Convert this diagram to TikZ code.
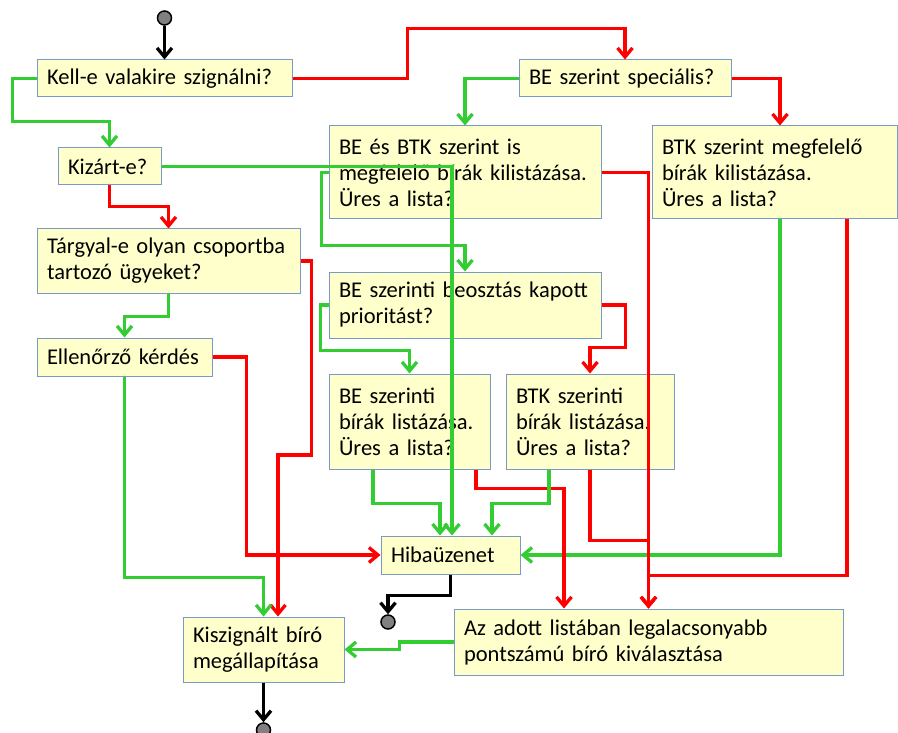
\documentclass[tikz,border=0pt]{standalone}
\usepackage{fontspec}
\setmainfont{Carlito}
\usepackage{tikz}
\usetikzlibrary{arrows.meta}
\definecolor{boxyellow}{RGB}{255, 255, 204}
\definecolor{boxborder}{RGB}{121, 153, 199}
\definecolor{yesgreen}{RGB}{51, 204, 51}
\definecolor{nored}{RGB}{255, 0, 0}
\definecolor{termgray}{RGB}{128, 128, 128}

\begin{document}
\begin{tikzpicture}[
        x=1pt, y=-1pt,
        box/.style={rectangle, draw=boxborder, line width=1pt, fill=boxyellow, align=left, inner xsep=10pt, inner ysep=0pt, font=\fontsize{22.5}{26}\selectfont},
        terminal/.style={circle, draw=black, line width=1.5pt, fill=termgray, minimum size=14pt, inner sep=0pt},
        yesflow/.style={draw=yesgreen, line width=3.3pt, -{Straight Barb[length=9pt,width=15pt]}},
        noflow/.style={draw=nored, line width=3.3pt, -{Straight Barb[length=9pt,width=15pt]}},
        endflow/.style={draw=black, line width=3.3pt, -{Straight Barb[length=9pt,width=15pt]}}
    ]
    \useasboundingbox (0,0) rectangle (898,733);

    % Start and end points
    \node[terminal] (start) at (164.5,18) {};
    \node[terminal] (stopok) at (263.5,730) {};
    \node[terminal] (stoperr) at (388,622) {};

    % Questions on the left
    \node[box, text width=235pt, minimum height=37pt] (kell) at (164.5,78.5) {Kell-e valakire szignálni?};
    \node[box, text width=83pt, minimum height=37pt] (kizart) at (109.5,166.5) {Kizárt-e?};
    \node[box, text width=243pt, minimum height=64pt] (targyal) at (168.5,261) {Tárgyal-e olyan csoportba\\tartozó ügyeket?};
    \node[box, text width=155pt, minimum height=38pt] (ellen) at (124.5,357) {Ellenőrző kérdés};

    % Listing of judges
    \node[box, text width=192pt, minimum height=37pt] (spec) at (625,78.5) {BE szerint speciális?};
    \node[box, text width=252pt, minimum height=93pt] (bebtk) at (465,172.5) {BE és BTK szerint is\\megfelelő bírák kilistázása.\\Üres a lista?};
    \node[box, text width=225pt, minimum height=93pt] (btkm) at (774.5,172.5) {BTK szerint megfelelő\\bírák kilistázása.\\Üres a lista?};
    \node[box, text width=252pt, minimum height=66pt] (beoszt) at (465,305) {BE szerinti beosztás kapott\\prioritást?};
    \node[box, text width=141pt, minimum height=95pt] (belist) at (409.5,421.5) {BE szerinti\\bírák listázása.\\Üres a lista?};
    \node[box, text width=148pt, minimum height=95pt] (btklist) at (590,421.5) {BTK szerinti\\bírák listázása.\\Üres a lista?};

    % Results
    \node[box, text width=119pt, minimum height=38pt] (hiba) at (450.5,555) {Hibaüzenet};
    \node[box, text width=141pt, minimum height=65pt] (kisz) at (263.5,649.5) {Kiszignált bíró\\megállapítása};
    \node[box, text width=369pt, minimum height=66pt] (adott) at (648.5,642) {Az adott listában legalacsonyabb\\pontszámú bíró kiválasztása};

    % Black flows
    \draw[endflow] (start) -- (kell.north);
    \draw[endflow] (kisz.south) -- (stopok);
    \draw[endflow] (hiba.south) -- ++(0,21) -| (stoperr);

    % Left column
    \draw[yesflow] (kell.west) -- ++(-24,0) |- ([yshift=26pt]kizart.north) -- (kizart.north);
    \draw[noflow] (kell.east) -- ++(115,0) |- ([yshift=31pt]spec.north) -- (spec.north);
    \draw[yesflow] (kizart.east) -| ([xshift=1.5pt]hiba.north);
    \draw[noflow] (kizart.south) -- ++(0,21) -| (targyal.north);
    \draw[yesflow] (targyal.south) -- ++(0,23) -| (ellen.north);
    \draw[noflow] (targyal.east) -- ++(11,0) -- ++(0,194) -| ([xshift=14.5pt]kisz.north);
    \draw[noflow] (ellen.east) -- ++(34,0) |- (hiba.west);
    \draw[yesflow] (ellen.south) -- ++(0,201) -| (kisz.north);

    % Right columns
    \draw[yesflow] (spec.west) -| (bebtk.north);
    \draw[noflow] (spec.east) -| ([xshift=5.5pt]btkm.north);
    \draw[yesflow] (bebtk.west) -- ++(-7,0) |- ([yshift=26pt]beoszt.north) -- (beoszt.north);
    \draw[noflow] (bebtk.east) -| (adott.north);
    \draw[noflow] ([xshift=72.5pt]btkm.south) -- ++(0,356) -| (adott.north);
    \draw[yesflow] ([xshift=5.5pt]btkm.south) |- (hiba.east);
    \draw[yesflow] (beoszt.west) -- ++(-8,0) |- ([yshift=23pt]belist.north) -- (belist.north);
    \draw[noflow] (beoszt.east) -- ++(24,0) |- ([yshift=26pt]btklist.north) -- (btklist.north);
    \draw[yesflow] ([xshift=-36.5pt]belist.south) -- ++(0,34) -| ([xshift=-10.5pt]hiba.north);
    \draw[noflow] ([xshift=66.5pt]belist.south) -- ++(0,19) -| ([xshift=-84.5pt]adott.north);
    \draw[yesflow] ([xshift=-41pt]btklist.south) -- ++(0,34) -| ([xshift=41.5pt]hiba.north);
    \draw[noflow] (btklist.south) -- ++(0,71) -| (adott.north);
    \draw[yesflow] (adott.west) -- ++(-54,0) |- (kisz.east);

\end{tikzpicture}
\end{document}
